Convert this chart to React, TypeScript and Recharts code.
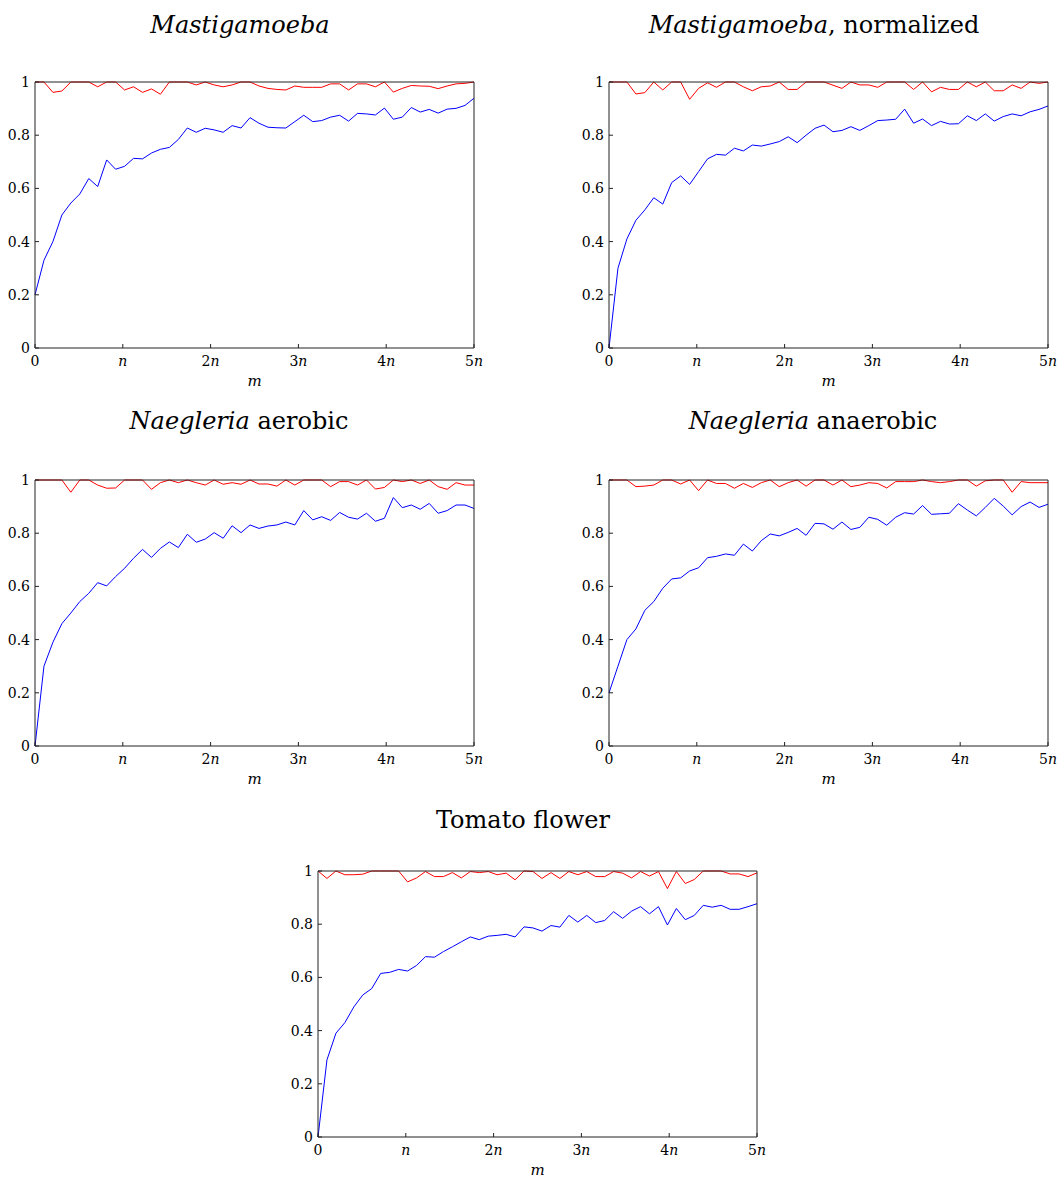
import { LineChart, Line, XAxis, YAxis, Label } from "recharts";

// 50 samples per curve, m running from 0 to 5n
const mastiRed = [
  1, 1, 0.961, 0.966, 1, 1, 1, 0.982, 1, 1,
  0.97, 0.982, 0.961, 0.974, 0.954, 1, 1, 1, 0.989, 1,
  0.989, 0.982, 0.989, 1, 1, 0.985, 0.976, 0.972, 0.97, 0.985,
  0.98, 0.98, 0.98, 0.993, 0.993, 0.97, 0.993, 0.993, 0.982, 1,
  0.962, 0.976, 0.987, 0.985, 0.984, 0.975, 0.985, 0.993, 0.995, 1,
];
const mastiBlue = [
  0.2, 0.33, 0.4, 0.5, 0.545, 0.579, 0.637, 0.607, 0.707, 0.672,
  0.683, 0.713, 0.711, 0.733, 0.747, 0.754, 0.784, 0.827, 0.811, 0.826,
  0.82, 0.811, 0.836, 0.827, 0.866, 0.845, 0.83, 0.828, 0.827, 0.851,
  0.875, 0.851, 0.855, 0.868, 0.875, 0.853, 0.882, 0.88, 0.876, 0.902,
  0.86, 0.868, 0.904, 0.887, 0.897, 0.883, 0.898, 0.901, 0.912, 0.939,
];
const mastiNormRed = [
  1, 1, 1, 0.955, 0.96, 1, 0.97, 1, 1, 0.935,
  0.976, 0.997, 0.98, 1, 1, 0.982, 0.967, 0.982, 0.985, 1,
  0.972, 0.972, 1, 1, 1, 0.988, 0.976, 1, 0.989, 0.989,
  0.98, 1, 1, 1, 0.972, 1, 0.963, 0.98, 0.972, 0.972,
  1, 0.982, 1, 0.967, 0.967, 0.989, 0.976, 1, 0.995, 1,
];
const mastiNormBlue = [
  0, 0.3, 0.41, 0.48, 0.519, 0.565, 0.541, 0.622, 0.647, 0.615,
  0.663, 0.711, 0.728, 0.725, 0.751, 0.741, 0.763, 0.759, 0.767, 0.776,
  0.794, 0.772, 0.8, 0.826, 0.838, 0.813, 0.818, 0.832, 0.818, 0.836,
  0.855, 0.857, 0.86, 0.898, 0.845, 0.861, 0.836, 0.852, 0.842, 0.843,
  0.873, 0.855, 0.88, 0.853, 0.87, 0.88, 0.873, 0.888, 0.897, 0.91,
];
const aeroRed = [
  1, 1, 1, 1, 0.954, 1, 1, 0.981, 0.969, 0.97,
  1, 1, 1, 0.965, 0.99, 1, 0.99, 1, 0.99, 0.981,
  1, 0.984, 0.99, 0.984, 1, 0.985, 0.985, 0.977, 1, 0.981,
  1, 1, 1, 0.975, 0.994, 0.994, 0.981, 1, 0.966, 0.972,
  1, 0.994, 1, 0.987, 1, 0.975, 0.965, 0.99, 0.981, 0.981,
];
const aeroBlue = [
  0, 0.3, 0.39, 0.46, 0.5, 0.543, 0.574, 0.614, 0.602, 0.637,
  0.668, 0.706, 0.739, 0.709, 0.743, 0.767, 0.746, 0.796, 0.766, 0.778,
  0.802, 0.781, 0.828, 0.802, 0.831, 0.818, 0.827, 0.831, 0.842, 0.831,
  0.885, 0.85, 0.862, 0.848, 0.878, 0.86, 0.853, 0.875, 0.845, 0.856,
  0.934, 0.896, 0.906, 0.89, 0.912, 0.875, 0.885, 0.906, 0.906, 0.893,
];
const anaeroRed = [
  1, 1, 1, 0.975, 0.977, 0.981, 1, 1, 0.985, 1,
  0.96, 1, 0.987, 0.987, 0.969, 0.987, 0.972, 0.99, 1, 0.975,
  0.99, 1, 0.977, 1, 1, 0.981, 1, 0.975, 0.981, 0.99,
  0.987, 0.97, 0.994, 0.994, 0.994, 1, 0.994, 0.99, 0.994, 1,
  1, 0.977, 0.997, 1, 1, 0.954, 0.994, 0.99, 0.99, 0.99,
];
const anaeroBlue = [
  0.2, 0.3, 0.4, 0.44, 0.51, 0.543, 0.593, 0.628, 0.632, 0.658,
  0.67, 0.708, 0.713, 0.722, 0.717, 0.759, 0.733, 0.772, 0.797, 0.79,
  0.803, 0.818, 0.792, 0.837, 0.835, 0.815, 0.842, 0.814, 0.822, 0.86,
  0.852, 0.83, 0.86, 0.877, 0.872, 0.904, 0.871, 0.873, 0.875, 0.911,
  0.887, 0.865, 0.897, 0.931, 0.902, 0.869, 0.9, 0.917, 0.897, 0.909,
];
const tomatoRed = [
  1, 0.972, 1, 0.986, 0.986, 0.988, 1, 1, 1, 1,
  0.959, 0.974, 0.998, 0.979, 0.979, 0.994, 0.974, 0.998, 0.994, 0.998,
  0.986, 0.992, 0.967, 1, 0.998, 0.972, 0.994, 0.972, 0.998, 0.986,
  0.998, 0.979, 0.979, 0.998, 0.992, 0.974, 0.998, 0.981, 0.998, 0.934,
  0.998, 0.953, 0.968, 1, 1, 1, 0.989, 0.989, 0.979, 0.993,
];
const tomatoBlue = [
  0, 0.29, 0.39, 0.43, 0.489, 0.534, 0.558, 0.615, 0.619, 0.63,
  0.624, 0.645, 0.678, 0.676, 0.697, 0.715, 0.734, 0.752, 0.742, 0.755,
  0.758, 0.762, 0.752, 0.79, 0.786, 0.774, 0.795, 0.789, 0.833, 0.808,
  0.833, 0.806, 0.814, 0.847, 0.822, 0.849, 0.866, 0.839, 0.866, 0.797,
  0.859, 0.817, 0.833, 0.871, 0.864, 0.871, 0.856, 0.856, 0.866, 0.877,
];

const yTicks = [0, 0.2, 0.4, 0.6, 0.8, 1];
const xTickLabels = ["0", "n", "2n", "3n", "4n", "5n"];

const lastIndex = mastiBlue.length - 1;
const xTicks = xTickLabels.map((_, i) => (i * lastIndex) / 5);

const FONT = "DejaVu Serif, Liberation Serif, serif";
const AXIS = "#222";

// plot area size in px
const PW = 439;
const PH = 266;
const LW = 35;
const RW = 20;
const TH = 14;
const BH = 46;

function XTick(props: any) {
  const { x, y, payload } = props;
  const i = xTicks.indexOf(payload.value);
  const lbl = xTickLabels[i] ?? "";
  const num = lbl.replace("n", "");
  return (
    <text x={x} y={y} dy={13} textAnchor="middle" fontFamily={FONT} fontSize={14} fill="#000">
      {num}
      {lbl.endsWith("n") && <tspan fontStyle="italic">n</tspan>}
    </text>
  );
}

function Panel({ red, blue, left, top }: { red: number[]; blue: number[]; left: number; top: number }) {
  const data = blue.map((b, i) => ({ k: i, blue: b, red: red[i] }));
  return (
    <div style={{ position: "absolute", left: left - LW, top: top - TH }}>
      <LineChart
        width={LW + PW + RW}
        height={TH + PH + BH}
        data={data}
        margin={{ top: 0, right: 0, bottom: 0, left: 0 }}
      >
        <XAxis
          xAxisId="b"
          dataKey="k"
          type="number"
          domain={[0, lastIndex]}
          ticks={xTicks}
          interval={0}
          tick={<XTick />}
          tickSize={-4}
          tickMargin={9}
          height={BH}
          stroke={AXIS}
        >
          <Label
            content={({ viewBox }: any) => (
              <text
                x={viewBox.x + viewBox.width / 2}
                y={viewBox.y + 38}
                textAnchor="middle"
                fontFamily={FONT}
                fontSize={15}
                fontStyle="italic"
                fill="#000"
              >
                m
              </text>
            )}
          />
        </XAxis>
        <XAxis
          xAxisId="t"
          orientation="top"
          dataKey="k"
          type="number"
          domain={[0, lastIndex]}
          ticks={xTicks}
          interval={0}
          tick={false}
          tickSize={-4}
          height={TH}
          stroke={AXIS}
        />
        <YAxis
          yAxisId="l"
          type="number"
          domain={[0, 1]}
          ticks={yTicks}
          interval={0}
          tickSize={-4}
          tickMargin={9}
          width={LW}
          stroke={AXIS}
          tick={{ fontFamily: FONT, fontSize: 14, fill: "#000" }}
        />
        <YAxis
          yAxisId="r"
          orientation="right"
          type="number"
          domain={[0, 1]}
          ticks={yTicks}
          interval={0}
          tick={false}
          tickSize={-4}
          width={RW}
          stroke={AXIS}
        />
        <Line
          xAxisId="b"
          yAxisId="l"
          dataKey="red"
          stroke="#ff0000"
          strokeWidth={1}
          dot={false}
          isAnimationActive={false}
        />
        <Line
          xAxisId="b"
          yAxisId="l"
          dataKey="blue"
          stroke="#0000ff"
          strokeWidth={1}
          dot={false}
          isAnimationActive={false}
        />
      </LineChart>
    </div>
  );
}

function Title({ cx, cy, children }: { cx: number; cy: number; children: any }) {
  return (
    <div
      style={{
        position: "absolute",
        left: cx,
        top: cy - 16,
        transform: "translateX(-50%)",
        whiteSpace: "nowrap",
        fontFamily: FONT,
        fontSize: 24,
        lineHeight: "32px",
        color: "#000",
      }}
    >
      {children}
    </div>
  );
}

export default function App() {
  return (
    <div
      style={{
        position: "absolute",
        left: 0,
        top: 0,
        width: 1059,
        height: 1178,
        background: "#fff",
        overflow: "hidden",
      }}
    >
      <Title cx={240} cy={25}>
        <i>Mastigamoeba</i>
      </Title>
      <Title cx={814} cy={25}>
        <i>Mastigamoeba</i>, normalized
      </Title>
      <Title cx={239} cy={421}>
        <i>Naegleria</i> aerobic
      </Title>
      <Title cx={813} cy={421}>
        <i>Naegleria</i> anaerobic
      </Title>
      <Title cx={523} cy={820}>
        Tomato flower
      </Title>

      <Panel red={mastiRed} blue={mastiBlue} left={35} top={82} />
      <Panel red={mastiNormRed} blue={mastiNormBlue} left={609} top={82} />
      <Panel red={aeroRed} blue={aeroBlue} left={35} top={480} />
      <Panel red={anaeroRed} blue={anaeroBlue} left={609} top={480} />
      <Panel red={tomatoRed} blue={tomatoBlue} left={318} top={871} />
    </div>
  );
}
